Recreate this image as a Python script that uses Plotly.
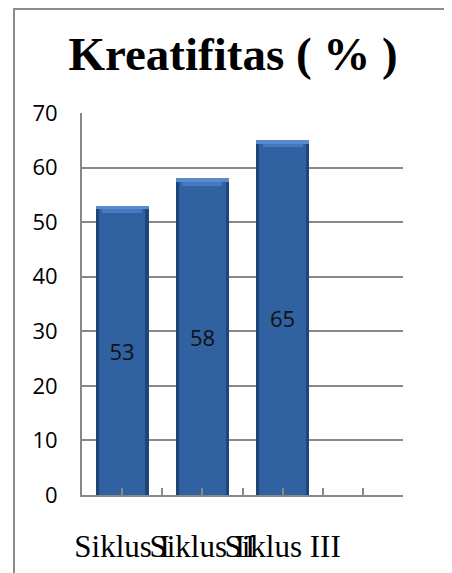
import plotly.graph_objects as go

categories = ["Siklus I", "Siklus II", "Siklus III"]
values = [53, 58, 65]
y_ticks = [0, 10, 20, 30, 40, 50, 60, 70]
title_text = "Kreatifitas ( % )"
n_slots = 4  # chart has one extra empty category slot

# page body adds an 8px offset, so the figure is sized to fit the window
W, H = 444, 565
L, R, T, B = 74, 49, 105, 78
PW, PH = W - L - R, H - T - B

xs = list(range(len(categories)))
bevel_outer = 0.6
bevel_inner = 1.3

fig = go.Figure()
# dark edge layer
fig.add_trace(go.Bar(x=xs, y=values, width=0.66, marker=dict(color="#1e4578", line=dict(width=0)),
                     hoverinfo="skip", showlegend=False))
# main body
fig.add_trace(go.Bar(x=xs, y=values, width=0.58, marker=dict(color="#3061a0", line=dict(width=0)),
                     text=[str(v) for v in values], textposition="inside", insidetextanchor="middle",
                     textangle=0,
                     insidetextfont=dict(family="Open Sans", size=22, color="#111111"),
                     hoverinfo="skip", showlegend=False))
# top bevel highlight (stepped to suggest a trapezoid)
fig.add_trace(go.Bar(x=xs, y=[bevel_inner] * len(values), base=[v - bevel_inner for v in values], width=0.5,
                     marker=dict(color="#4878bd", line=dict(width=0)),
                     hoverinfo="skip", showlegend=False))
fig.add_trace(go.Bar(x=xs, y=[bevel_outer] * len(values), base=[v - bevel_outer for v in values], width=0.66,
                     marker=dict(color="#5a8bd0", line=dict(width=0)),
                     hoverinfo="skip", showlegend=False))

tickvals = [i * 0.5 for i in range(0, 2 * n_slots)]
ticktext = []
for tv in tickvals:
    if tv == int(tv) and int(tv) < len(categories):
        ticktext.append(categories[int(tv)])
    else:
        ticktext.append("")

fig.update_layout(
    width=W, height=H,
    margin=dict(l=L, r=R, t=T, b=B, pad=0, autoexpand=False),
    paper_bgcolor="white", plot_bgcolor="white",
    barmode="overlay",
    bargap=0,
    title=dict(text="<b>" + title_text + "</b>", font=dict(family="Liberation Serif", size=47, color="black"),
               x=0.507, xanchor="center", xref="container",
               y=1 - 46 / H, yanchor="middle", yref="container"),
    xaxis=dict(range=[-0.5, n_slots - 0.5], tickvals=tickvals, ticktext=ticktext, tickangle=0,
               ticks="inside", ticklen=7, tickwidth=2, tickcolor="#888888",
               showline=True, linecolor="#888888", linewidth=2, showgrid=False, zeroline=False,
               tickfont=dict(family="Liberation Serif", size=31, color="black"),
               ticklabelstandoff=23, fixedrange=True, automargin=False),
    yaxis=dict(range=[0, 70], tickvals=y_ticks, ticks="", showline=True, linecolor="#888888", linewidth=2,
               showgrid=True, gridcolor="#888888", gridwidth=1.5, zeroline=False,
               tickfont=dict(family="Open Sans", size=22, color="black"),
               ticklabelstandoff=18, fixedrange=True, automargin=False),
    shapes=[dict(type="rect", xref="paper", yref="paper",
                 x0=(6 - L) / PW, x1=(480 - L) / PW,
                 y0=(H - B - 600) / PH, y1=(H - B - 1) / PH,
                 line=dict(color="#8c8c8c", width=2), fillcolor="rgba(0,0,0,0)", layer="below")],
)

fig.write_html("out.html")
